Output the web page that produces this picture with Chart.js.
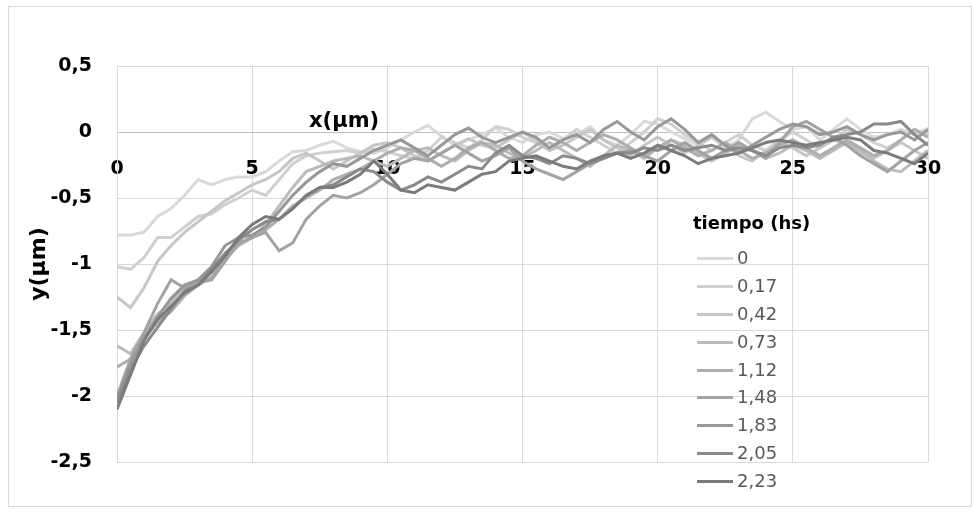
<!DOCTYPE html>
<html>
<head>
<meta charset="utf-8">
<script src="https://cdn.jsdelivr.net/npm/chart.js@4.4.1/dist/chart.umd.min.js"></script>
<style>
  html, body { margin: 0; padding: 0; background: #fff; }
  #wrap { position: relative; width: 979px; height: 512px; }
  #frame { position: absolute; left: 8px; top: 6px; width: 962px; height: 499px; border: 1px solid #d9d9d9; pointer-events: none; }
  #legend { position: absolute; left: 693px; top: 208px; font-family: 'DejaVu Sans', sans-serif; }
  #legend .ttl { font-weight: bold; font-size: 18px; color: #000; height: 30px; line-height: 30px; margin-bottom: 7px; }
  #legend .row { position: relative; height: 27.9px; }
  #legend .row i { position: absolute; left: 4px; top: 12px; width: 36px; height: 3px; }
  #legend .row span { position: absolute; left: 44px; top: 2px; font-size: 18px; color: #595959; line-height: 22px; }
</style>
</head>
<body>
<div id="wrap">
  <canvas id="chart"></canvas>
  <div id="frame"></div>
  <div id="legend"></div>
</div>
<script>
// x positions (µm)
const xPos = [0,0.5,1,1.5,2,2.5,3,3.5,4,4.5,5,5.5,6,6.5,7,7.5,8,8.5,9,9.5,10,10.5,11,11.5,12,12.5,13,13.5,14,14.5,15,15.5,16,16.5,17,17.5,18,18.5,19,19.5,20,20.5,21,21.5,22,22.5,23,23.5,24,24.5,25,25.5,26,26.5,27,27.5,28,28.5,29,29.5,30];

const timeLabels = ['0', '0,17', '0,42', '0,73', '1,12', '1,48', '1,83', '2,05', '2,23'];
const lineColors = ['#d9d9d9', '#d0d0d0', '#c6c6c6', '#bbbbbb', '#aeaeae', '#a3a3a3', '#989898', '#8a8a8a', '#7b7b7b'];

const yTicks = [0.5, 0, -0.5, -1, -1.5, -2, -2.5];
const xTicks = [0, 5, 10, 15, 20, 25, 30];

const y_t000 = [-0.78,-0.78,-0.76,-0.64,-0.58,-0.48,-0.36,-0.40,-0.36,-0.34,-0.34,-0.30,-0.22,-0.15,-0.14,-0.10,-0.07,-0.12,-0.15,-0.16,-0.12,-0.06,0.00,0.05,-0.03,-0.10,-0.06,-0.02,0.03,-0.04,-0.08,-0.02,0.00,-0.05,-0.02,0.04,-0.06,-0.10,-0.02,0.08,0.06,0.00,-0.05,-0.10,-0.04,-0.12,-0.06,0.10,0.15,0.08,0.02,0.04,-0.06,0.02,0.10,0.02,-0.04,-0.02,0.02,-0.02,0.03];
const y_t017 = [-1.02,-1.04,-0.95,-0.80,-0.80,-0.72,-0.64,-0.62,-0.55,-0.50,-0.44,-0.48,-0.36,-0.24,-0.18,-0.16,-0.15,-0.14,-0.16,-0.13,-0.15,-0.18,-0.20,-0.14,-0.04,-0.08,-0.12,-0.06,0.04,0.02,-0.04,-0.08,-0.14,-0.06,0.02,-0.04,-0.10,-0.16,-0.08,0.00,0.10,0.06,-0.02,-0.08,-0.14,-0.08,-0.02,-0.10,-0.14,-0.06,0.00,-0.06,-0.12,-0.06,0.02,-0.02,-0.08,-0.12,-0.06,0.02,-0.02];
const y_t042 = [-1.25,-1.33,-1.18,-0.98,-0.86,-0.76,-0.68,-0.60,-0.52,-0.46,-0.40,-0.36,-0.30,-0.20,-0.16,-0.22,-0.28,-0.22,-0.16,-0.10,-0.08,-0.12,-0.18,-0.22,-0.16,-0.10,-0.05,-0.10,-0.12,-0.06,0.00,-0.06,-0.14,-0.10,-0.04,0.02,-0.06,-0.12,-0.18,-0.10,-0.04,-0.10,-0.16,-0.10,-0.04,-0.10,-0.18,-0.22,-0.14,-0.08,-0.12,-0.18,-0.12,-0.06,-0.10,-0.16,-0.20,-0.14,-0.08,-0.14,-0.20];
const y_t073 = [-1.62,-1.68,-1.52,-1.38,-1.30,-1.16,-1.14,-1.05,-0.92,-0.84,-0.80,-0.70,-0.56,-0.42,-0.30,-0.26,-0.22,-0.20,-0.18,-0.22,-0.26,-0.20,-0.14,-0.12,-0.18,-0.22,-0.14,-0.08,-0.10,-0.16,-0.20,-0.14,-0.08,-0.14,-0.20,-0.26,-0.18,-0.10,-0.14,-0.20,-0.12,-0.06,-0.10,-0.16,-0.22,-0.16,-0.10,-0.14,-0.20,-0.16,-0.10,-0.14,-0.20,-0.14,-0.08,-0.14,-0.22,-0.28,-0.30,-0.22,-0.14];
const y_t112 = [-1.78,-1.72,-1.56,-1.44,-1.36,-1.24,-1.16,-1.10,-0.96,-0.86,-0.80,-0.74,-0.66,-0.56,-0.50,-0.44,-0.36,-0.32,-0.28,-0.22,-0.16,-0.12,-0.14,-0.20,-0.26,-0.20,-0.12,-0.08,-0.14,-0.20,-0.18,-0.10,-0.04,-0.08,-0.14,-0.08,-0.02,-0.06,-0.12,-0.18,-0.12,-0.06,-0.12,-0.18,-0.14,-0.08,-0.14,-0.20,-0.16,-0.10,-0.06,-0.12,-0.18,-0.12,-0.06,-0.12,-0.18,-0.14,-0.06,0.02,-0.04];
const y_t148 = [-2.00,-1.72,-1.52,-1.30,-1.12,-1.18,-1.14,-1.12,-0.98,-0.84,-0.80,-0.76,-0.90,-0.84,-0.66,-0.56,-0.48,-0.50,-0.46,-0.40,-0.32,-0.24,-0.20,-0.22,-0.16,-0.10,-0.16,-0.22,-0.18,-0.12,-0.22,-0.28,-0.32,-0.36,-0.30,-0.24,-0.20,-0.16,-0.14,-0.18,-0.22,-0.14,-0.08,-0.14,-0.20,-0.14,-0.08,-0.14,-0.20,-0.08,0.04,0.08,0.02,-0.04,-0.10,-0.18,-0.24,-0.30,-0.22,-0.14,-0.08];
const y_t183 = [-2.02,-1.76,-1.56,-1.40,-1.26,-1.16,-1.12,-1.02,-0.86,-0.80,-0.78,-0.72,-0.60,-0.48,-0.38,-0.30,-0.24,-0.26,-0.20,-0.14,-0.10,-0.06,-0.12,-0.18,-0.10,-0.02,0.03,-0.04,-0.08,-0.04,0.00,-0.04,-0.12,-0.06,-0.02,-0.08,0.02,0.08,0.00,-0.06,0.04,0.10,0.02,-0.08,-0.02,-0.10,-0.16,-0.10,-0.04,0.02,0.06,0.04,-0.02,0.00,0.04,-0.02,-0.06,-0.02,0.00,-0.06,0.02];
const y_t205 = [-2.05,-1.80,-1.62,-1.48,-1.34,-1.20,-1.16,-1.04,-0.92,-0.82,-0.74,-0.68,-0.66,-0.58,-0.48,-0.42,-0.40,-0.34,-0.28,-0.30,-0.38,-0.44,-0.40,-0.34,-0.38,-0.32,-0.26,-0.28,-0.16,-0.10,-0.18,-0.20,-0.24,-0.18,-0.20,-0.24,-0.20,-0.16,-0.16,-0.12,-0.14,-0.10,-0.14,-0.12,-0.10,-0.14,-0.12,-0.14,-0.18,-0.12,-0.10,-0.12,-0.10,-0.04,-0.02,0.00,0.06,0.06,0.08,-0.02,-0.10];
const y_t223 = [-2.10,-1.84,-1.58,-1.42,-1.32,-1.22,-1.16,-1.06,-0.94,-0.80,-0.70,-0.64,-0.66,-0.58,-0.48,-0.42,-0.42,-0.38,-0.32,-0.22,-0.32,-0.44,-0.46,-0.40,-0.42,-0.44,-0.38,-0.32,-0.30,-0.22,-0.20,-0.18,-0.22,-0.26,-0.28,-0.22,-0.18,-0.16,-0.20,-0.16,-0.10,-0.14,-0.18,-0.24,-0.20,-0.18,-0.16,-0.12,-0.08,-0.06,-0.08,-0.10,-0.08,-0.06,-0.04,-0.06,-0.14,-0.16,-0.20,-0.24,-0.16];

const seriesValues = [y_t000, y_t017, y_t042, y_t073, y_t112, y_t148, y_t183, y_t205, y_t223];

const FONT = "'DejaVu Sans', sans-serif";
const fmt = v => String(Math.round(v * 10) / 10).replace('.', ',');

// axis title that sits above the x axis, inside the plot
const xTitlePlugin = {
  id: 'xTitle',
  afterDraw(chart) {
    const {ctx} = chart;
    const px = chart.scales.x.getPixelForValue(8.4);
    const py = chart.scales.y.getPixelForValue(0.08);
    ctx.save();
    ctx.font = 'bold 21px ' + FONT;
    ctx.fillStyle = '#000';
    ctx.textAlign = 'center';
    ctx.textBaseline = 'middle';
    ctx.fillText('x(µm)', px, py);
    ctx.restore();
  }
};

const datasets = seriesValues.map((vals, i) => ({
  label: timeLabels[i],
  data: vals.map((v, j) => ({ x: xPos[j], y: v })),
  borderColor: lineColors[i],
  backgroundColor: lineColors[i],
  borderWidth: 3,
  pointRadius: 0,
  tension: 0,
  fill: false,
  order: seriesValues.length - i
}));

new Chart(document.getElementById('chart'), {
  type: 'line',
  data: { datasets },
  plugins: [xTitlePlugin],
  options: {
    responsive: true,
    maintainAspectRatio: false,
    animation: false,
    layout: { padding: { left: 0, top: 66, right: 51, bottom: 50 } },
    plugins: { legend: { display: false }, tooltip: { enabled: false } },
    scales: {
      x: {
        type: 'linear',
        position: { y: 0 },
        min: 0, max: 30,
        afterBuildTicks: s => { s.ticks = xTicks.map(v => ({ value: v })); },
        grid: { color: '#d9d9d9', drawTicks: false },
        border: { color: '#bfbfbf', width: 1 },
        ticks: { color: '#000', padding: 26, font: { family: FONT, size: 19, weight: 'bold' }, callback: fmt, maxRotation: 0 }
      },
      y: {
        min: -2.5, max: 0.5,
        afterBuildTicks: s => { s.ticks = yTicks.map(v => ({ value: v })); },
        afterFit: s => { s.width = 117; },
        grid: { color: '#d9d9d9', drawTicks: false },
        border: { color: '#d9d9d9' },
        ticks: { color: '#000', padding: 25, font: { family: FONT, size: 19, weight: 'bold' }, callback: fmt },
        title: { display: true, text: 'y(µm)', color: '#000', padding: { top: 26, bottom: 0 }, font: { family: FONT, size: 22, weight: 'bold' } }
      }
    }
  }
});

// legend
const leg = document.getElementById('legend');
let html = '<div class="ttl">tiempo (hs)</div>';
timeLabels.forEach((t, i) => {
  html += '<div class="row"><i style="background:' + lineColors[i] + '"></i><span>' + t + '</span></div>';
});
leg.innerHTML = html;
</script>
</body>
</html>
